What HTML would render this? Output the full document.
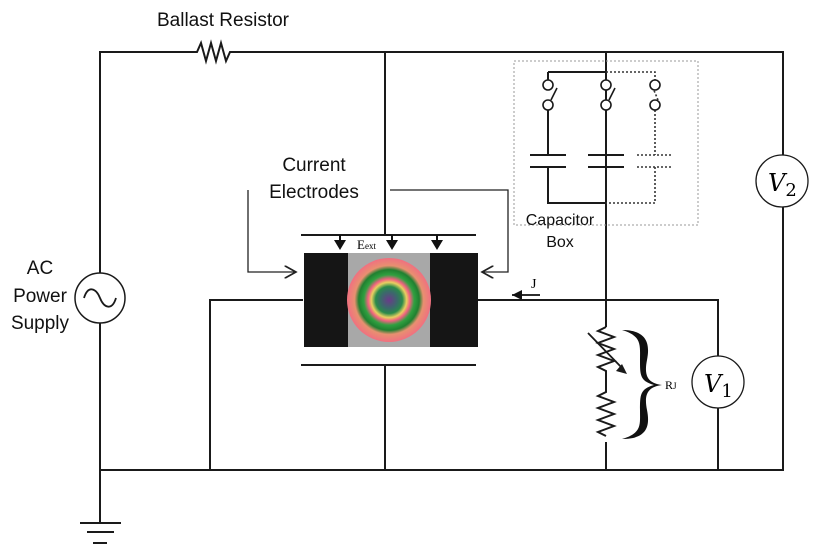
<!DOCTYPE html>
<html><head><style>body{margin:0;background:#fff}svg{display:block}</style></head><body>
<svg width="830" height="554" viewBox="0 0 830 554" xmlns="http://www.w3.org/2000/svg" font-family="Liberation Sans, sans-serif">
<defs>
<radialGradient id="rg" cx="0.5" cy="0.5" r="0.5">
<stop offset="0" stop-color="#6a3a8a"/><stop offset="0.2" stop-color="#3a6a6a"/><stop offset="0.32" stop-color="#2a8a4a"/>
<stop offset="0.42" stop-color="#e8d060"/><stop offset="0.5" stop-color="#f06080"/><stop offset="0.6" stop-color="#30a040"/>
<stop offset="0.72" stop-color="#208030"/><stop offset="0.82" stop-color="#e89070"/><stop offset="1" stop-color="#f07080"/>
</radialGradient>
<marker id="ah" markerWidth="10" markerHeight="10" refX="9" refY="5" orient="auto"><path d="M0,0 L9,5 L0,10" fill="none" stroke="#222" stroke-width="1.3"/></marker>
</defs>
<g stroke="#1a1a1a" stroke-width="2" fill="none">
<path d="M100,470 V52 H197 l4,-9 l5,18 l5,-18 l5,18 l5,-18 l5,18 l4,-9 H783 V155"/>
<path d="M783,207 V470 H100 V522"/>
<path d="M80,523 H121 M87,532 H114 M93,543 H107"/>
<path d="M385,52 V235 M301,235 H476 M301,365 H476 M385,365 V470"/>
<path d="M210,470 V300 H303"/>
<path d="M478,300 H718 V356 M718,408 V470 M606,52 V327 M606,442 V470"/>
<path d="M548,72 H606 M548,72 V80 M606,60 V80 M548,110 V155 M606,110 V155 M548,167 V203 H606"/>
<path d="M551,100 L557,88 M609,100 L615,88" stroke-width="1.6"/>
<path d="M530,155 H566 M530,167 H566 M588,155 H624 M588,167 H624"/>
<path d="M606,327 l-8,4 l16,6 l-16,6 l16,6 l-16,6 l16,6 l-16,6 l8,4 V392 l-8,4 l16,6 l-16,6 l16,6 l-16,6 l16,6 l-16,6 l8,4"/>
</g>
<g stroke="#333" stroke-width="1.6" fill="none" stroke-dasharray="2,2">
<path d="M606,72 H655 V80 M655,110 V155 M655,167 V203 H606 M637,155 H673 M637,167 H673 M658,100 L653,88"/>
</g>
<g fill="#fff" stroke="#1a1a1a" stroke-width="1.6">
<circle cx="548" cy="85" r="5"/><circle cx="548" cy="105" r="5"/>
<circle cx="606" cy="85" r="5"/><circle cx="606" cy="105" r="5"/>
<circle cx="655" cy="85" r="5"/><circle cx="655" cy="105" r="5"/>
</g>
<rect x="514" y="61" width="184" height="164" fill="none" stroke="#999" stroke-width="1" stroke-dasharray="2,2"/>
<path d="M588,333 L624,370" stroke="#1a1a1a" stroke-width="1.8"/>
<path d="M627,374 l-11,-3 l6,-7 z" fill="#1a1a1a"/>
<path d="M622,330 C648,330 650,345 647,360 C644,375 647,383 662,385 C647,387 644,395 647,410 C650,425 648,439 622,439 C642,433 640,425 640,410 C640,395 640,389 654,385 C640,381 640,375 640,360 C640,345 642,336 622,330 Z" fill="#111"/>
<text x="665" y="389" font-family="Liberation Serif, serif" font-size="12">R<tspan font-size="9">J</tspan></text>
<circle cx="100" cy="298" r="25" fill="#fff" stroke="#1a1a1a" stroke-width="1.5"/>
<path d="M84,298 C88,285 96,288 100,298 C104,308 112,311 116,298" fill="none" stroke="#1a1a1a" stroke-width="1.8"/>
<circle cx="782" cy="181" r="26" fill="#fff" stroke="#1a1a1a" stroke-width="1.3"/>
<text x="768" y="191" font-family="DejaVu Serif, serif" font-style="italic" font-size="24">V<tspan font-style="normal" font-size="18" dy="5">2</tspan></text>
<circle cx="718" cy="382" r="26" fill="#fff" stroke="#1a1a1a" stroke-width="1.3"/>
<text x="704" y="392" font-family="DejaVu Serif, serif" font-style="italic" font-size="24">V<tspan font-style="normal" font-size="18" dy="5">1</tspan></text>
<rect x="304" y="253" width="174" height="94" fill="#151515"/>
<rect x="348" y="253" width="82" height="94" fill="#a8a8a8"/>
<circle cx="389" cy="300" r="42" fill="url(#rg)"/>
<g fill="#111"><path d="M334,240 h12 l-6,10z M386,240 h12 l-6,10z M431,240 h12 l-6,10z"/></g>
<path d="M340,235 V242 M392,235 V242 M437,235 V242" stroke="#111" stroke-width="2"/>
<text x="357" y="249" font-family="Liberation Serif, serif" font-size="13">E<tspan font-size="9">ext</tspan></text>
<path d="M248,190 V272 H296" fill="none" stroke="#222" stroke-width="1.3" marker-end="url(#ah)"/>
<path d="M390,190 H508 V272 H482" fill="none" stroke="#222" stroke-width="1.3" marker-end="url(#ah)"/>
<path d="M540,295 H512" stroke="#111" stroke-width="1.8"/>
<path d="M512,295 l10,-5 v10z" fill="#111"/>
<text x="531" y="288" font-family="Liberation Serif, serif" font-size="14">J</text>
<g font-size="19" fill="#111" text-anchor="middle">
<text x="223" y="26">Ballast Resistor</text>
<text x="314" y="171">Current</text>
<text x="314" y="198">Electrodes</text>
<text x="40" y="274">AC</text>
<text x="40" y="302">Power</text>
<text x="40" y="329">Supply</text>
</g>
<g font-size="16" fill="#111" text-anchor="middle">
<text x="560" y="225">Capacitor</text>
<text x="560" y="247">Box</text>
</g>
</svg>
</body></html>
